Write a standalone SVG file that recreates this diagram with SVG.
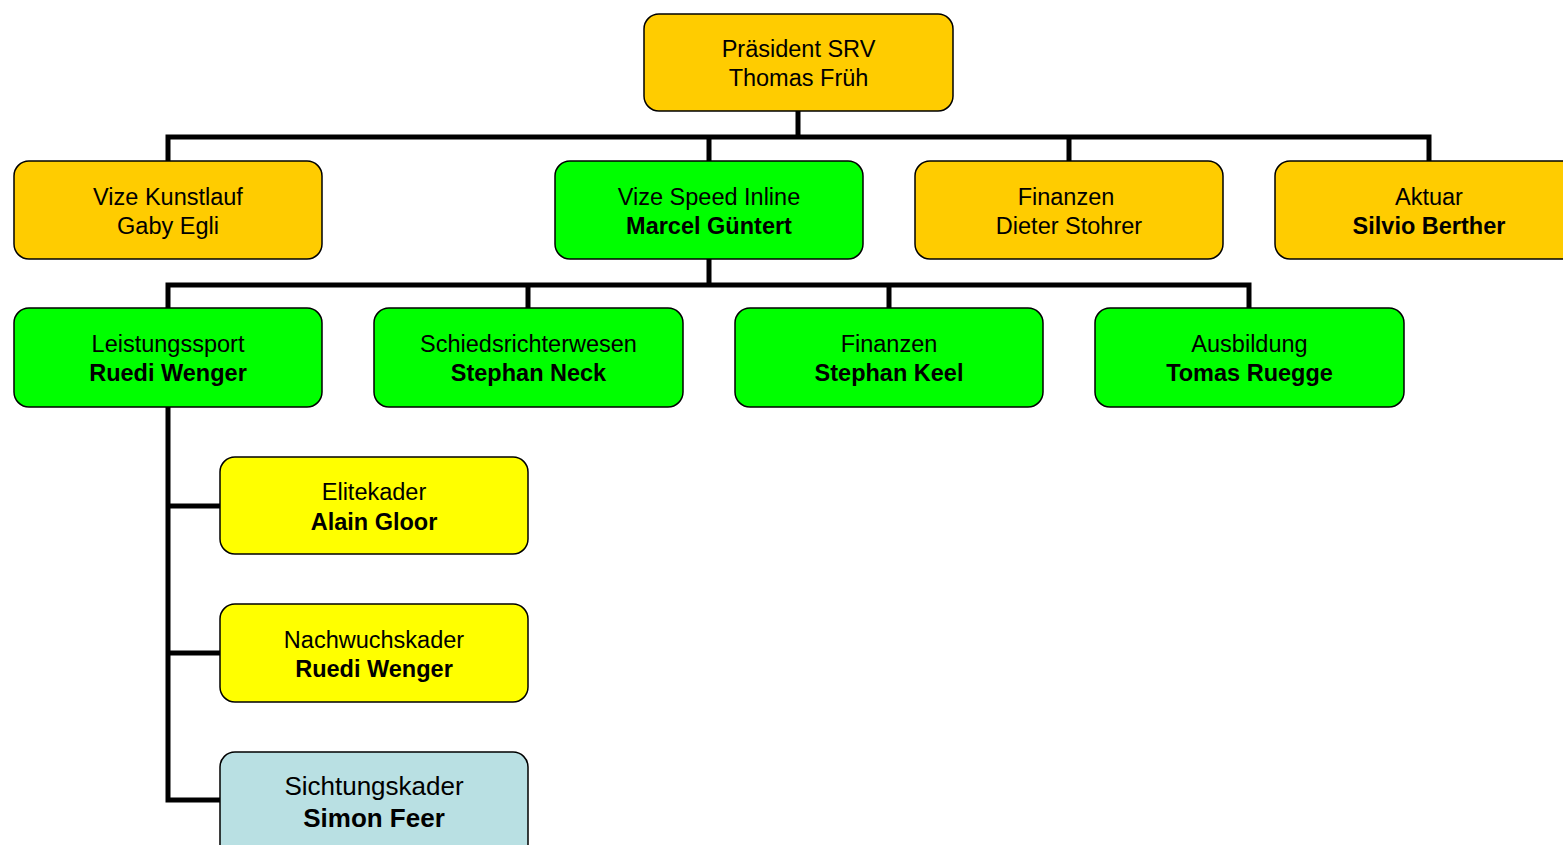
<svg xmlns="http://www.w3.org/2000/svg" width="1563" height="845" viewBox="0 0 1563 845">
<style>
.b{stroke:#000;stroke-width:1.5}
.o{fill:#FFCC00}.g{fill:#00FF00}.y{fill:#FFFF00}.c{fill:#B9E0E3}
text{font-family:"Liberation Sans",Arial,sans-serif;font-size:23.5px;text-anchor:middle;fill:#000}
.bd{font-weight:bold}
.lg{font-size:26px}
#connectors path{fill:none;stroke:#000;stroke-width:5}
</style>
<rect width="1563" height="845" fill="#fff"/>
<g id="connectors">
<path d="M798 111V137M168 161V137H1429V161M709 137V161M1069 137V161"/>
<path d="M709 259V285M168 308V285H1249V308M528 285V308M889 285V308"/>
<path d="M168 407V800H220M168 506H220M168 653H220"/>
</g>
<g id="praesident"><rect class="b o" x="644" y="14" width="309" height="97" rx="15"/><text x="798.5" y="56.5">Präsident SRV</text><text x="798.5" y="86">Thomas Früh</text></g>
<g id="vize-kunstlauf"><rect class="b o" x="14" y="161" width="308" height="98" rx="15"/><text x="168" y="204.5">Vize Kunstlauf</text><text x="168" y="234">Gaby Egli</text></g>
<g id="vize-speed"><rect class="b g" x="555" y="161" width="308" height="98" rx="15"/><text x="709" y="204.5">Vize Speed Inline</text><text class="bd" x="709" y="234">Marcel Güntert</text></g>
<g id="finanzen1"><rect class="b o" x="915" y="161" width="308" height="98" rx="15"/><text x="1066" y="204.5">Finanzen</text><text x="1069" y="234">Dieter Stohrer</text></g>
<g id="aktuar"><rect class="b o" x="1275" y="161" width="308" height="98" rx="15"/><text x="1429" y="204.5">Aktuar</text><text class="bd" x="1429" y="234">Silvio Berther</text></g>
<g id="leistungssport"><rect class="b g" x="14" y="308" width="308" height="99" rx="15"/><text x="168" y="351.5">Leistungssport</text><text class="bd" x="168" y="381">Ruedi Wenger</text></g>
<g id="schiedsrichter"><rect class="b g" x="374" y="308" width="309" height="99" rx="15"/><text x="528.5" y="351.5">Schiedsrichterwesen</text><text class="bd" x="528.5" y="381">Stephan Neck</text></g>
<g id="finanzen2"><rect class="b g" x="735" y="308" width="308" height="99" rx="15"/><text x="889" y="351.5">Finanzen</text><text class="bd" x="889" y="381">Stephan Keel</text></g>
<g id="ausbildung"><rect class="b g" x="1095" y="308" width="309" height="99" rx="15"/><text x="1249.5" y="351.5">Ausbildung</text><text class="bd" x="1249.5" y="381">Tomas Ruegge</text></g>
<g id="elitekader"><rect class="b y" x="220" y="457" width="308" height="97" rx="15"/><text x="374" y="500">Elitekader</text><text class="bd" x="374" y="529.5">Alain Gloor</text></g>
<g id="nachwuchskader"><rect class="b y" x="220" y="604" width="308" height="98" rx="15"/><text x="374" y="647.5">Nachwuchskader</text><text class="bd" x="374" y="677">Ruedi Wenger</text></g>
<g id="sichtungskader"><rect class="b c" x="220" y="752" width="308" height="110" rx="15"/><text class="lg" x="374" y="795">Sichtungskader</text><text class="lg bd" x="374" y="827">Simon Feer</text></g>
</svg>
